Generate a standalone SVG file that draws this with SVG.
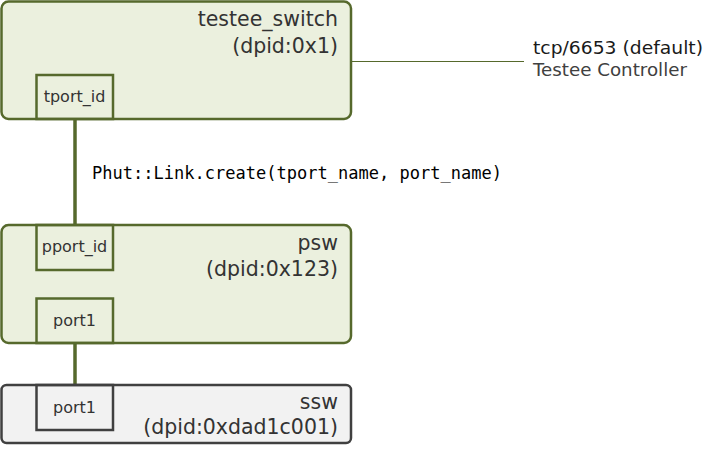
<svg xmlns="http://www.w3.org/2000/svg" width="721" height="454" viewBox="0 0 721 454">
<style>
.sw{fill:#ebf0de;stroke:#56692c;stroke-width:2.5}
.swg{fill:#f2f2f2;stroke:#404040;stroke-width:2.5}
.pt{fill:none;stroke:#56692c;stroke-width:2.5}
.ptg{fill:none;stroke:#404040;stroke-width:2.5}
.t{font-family:"DejaVu Sans",Verdana,sans-serif;fill:#333333}
.big{font-size:20.5px;text-anchor:end}
.sm{font-size:16px;text-anchor:middle}
.link{stroke:#56692c;stroke-width:3.5;fill:none}
</style>
<rect width="721" height="454" fill="#ffffff"/>
<g id="connectors">
<line class="link" x1="75" y1="119" x2="75" y2="225"/>
<line class="link" x1="75" y1="343" x2="75" y2="385"/>
<line x1="351" y1="61.5" x2="524" y2="61.5" stroke="#56692c" stroke-width="1.2"/>
<text x="92" y="179" font-family="'DejaVu Sans Mono','Liberation Mono',monospace" font-size="17" fill="#000000" textLength="410" lengthAdjust="spacingAndGlyphs">Phut::Link.create(tport_name, port_name)</text>
</g>
<g id="testee_switch">
<rect class="sw" x="1.5" y="1.5" width="349.5" height="117.5" rx="7"/>
<text class="t big" x="338" y="26">testee_switch</text>
<text class="t big" x="338" y="53">(dpid:0x1)</text>
<g id="tport_id">
<rect class="pt" x="36.5" y="75" width="76.5" height="44"/>
<text class="t sm" x="74.5" y="102">tport_id</text>
</g>
</g>
<g id="controller">
<text x="533" y="54" font-family="'DejaVu Sans',Verdana,sans-serif" font-size="17" fill="#1a1a1a" textLength="170" lengthAdjust="spacingAndGlyphs">tcp/6653 (default)</text>
<text x="533" y="76" font-family="'DejaVu Sans',Verdana,sans-serif" font-size="17" fill="#404040" textLength="154" lengthAdjust="spacingAndGlyphs">Testee Controller</text>
</g>
<g id="psw">
<rect class="sw" x="1.5" y="225" width="349.5" height="118" rx="7"/>
<text class="t big" x="338" y="250">psw</text>
<text class="t big" x="338" y="276">(dpid:0x123)</text>
<g id="pport_id">
<rect class="pt" x="36.5" y="225" width="76.5" height="45"/>
<text class="t sm" x="74.5" y="252">pport_id</text>
</g>
<g id="psw_port1">
<rect class="pt" x="36.5" y="298.5" width="76.5" height="44.5"/>
<text class="t sm" x="74.5" y="326">port1</text>
</g>
</g>
<g id="ssw">
<rect class="swg" x="1.5" y="385" width="349.5" height="58" rx="5"/>
<text class="t big" x="338" y="409">ssw</text>
<text class="t big" x="338" y="434">(dpid:0xdad1c001)</text>
<g id="ssw_port1">
<rect class="ptg" x="36.5" y="385" width="76.5" height="45"/>
<text class="t sm" x="74.5" y="413">port1</text>
</g>
</g>
</svg>
